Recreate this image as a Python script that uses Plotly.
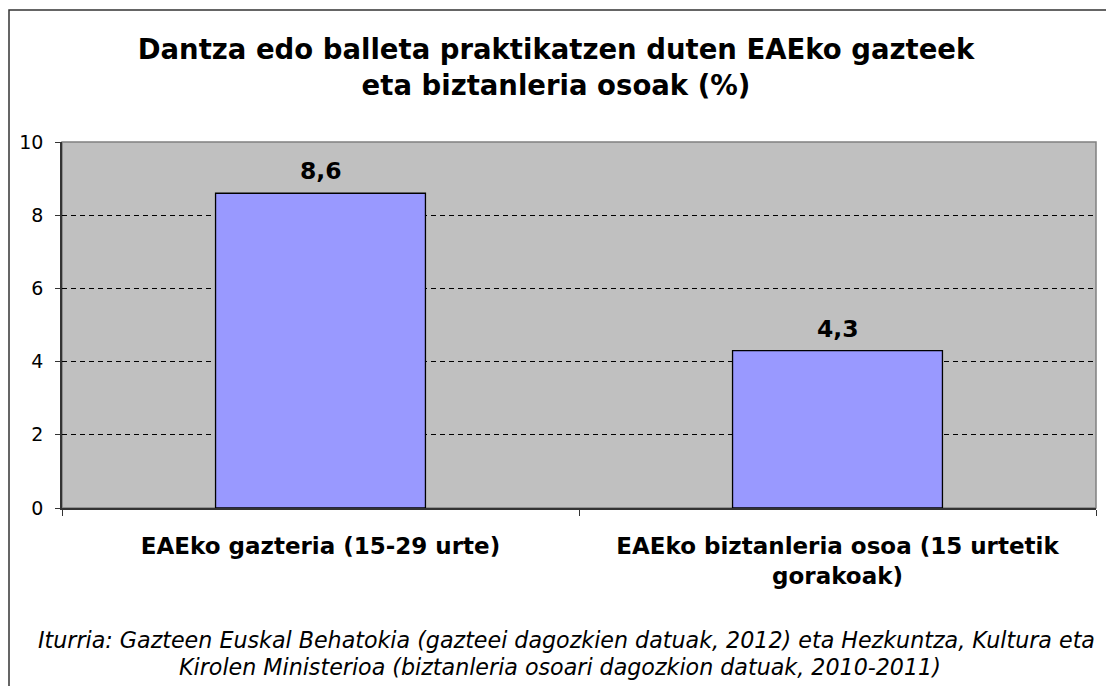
import plotly.graph_objects as go

categories = ["EAEko gazteria (15-29 urte)", "EAEko biztanleria osoa (15 urtetik<br>gorakoak)"]
values = [8.6, 4.3]
value_labels = ["8,6", "4,3"]
y_ticks = [0, 2, 4, 6, 8, 10]
title_lines = ["Dantza edo balleta praktikatzen duten EAEko gazteek", "eta biztanleria osoak (%)"]
source_lines = [
    "Iturria: Gazteen Euskal Behatokia (gazteei dagozkien datuak, 2012) eta Hezkuntza, Kultura eta",
    "Kirolen Ministerioa (biztanleria osoari dagozkion datuak, 2010-2011)",
]

FONT = "DejaVu Sans"
OFF = 8  # page body margin
W, H = 1114 - OFF, 686 - OFF
L, T = 62 - OFF, 142 - OFF
R = W - (1096 - OFF)
B = H - (508 - OFF)
pw, ph = W - L - R, H - T - B

def px_x(px):  # page pixel -> paper x
    return (px - OFF - L) / pw

def px_y(py):  # page pixel -> paper y
    return (H - B - (py - OFF)) / ph

fig = go.Figure()
fig.add_trace(go.Bar(
    x=categories, y=values,
    marker=dict(color="#9999FF", line=dict(color="black", width=1.3)),
    width=0.406, hoverinfo="skip",
))

annotations = []
for c, v, t in zip(categories, values, value_labels):
    annotations.append(dict(x=c, y=v, text="<b>%s</b>" % t, showarrow=False,
                            xref="x", yref="y", yanchor="bottom", yshift=6,
                            font=dict(family=FONT, size=23.5, color="black")))
for line, py, cx in zip(source_lines, [640, 667], [566, 560]):
    annotations.append(dict(x=px_x(cx), y=px_y(py), xref="paper", yref="paper",
                            text="<i>%s</i>" % line, showarrow=False,
                            xanchor="center", yanchor="middle",
                            font=dict(family=FONT, size=22.2, color="black")))

fig.update_layout(
    width=W, height=H,
    margin=dict(l=L, r=R, t=T, b=B),
    paper_bgcolor="white", plot_bgcolor="#C0C0C0",
    title=dict(text="<b>%s<br>%s</b>" % tuple(title_lines),
               x=(556 - OFF) / W, xanchor="center", y=1 - (59 - OFF) / H, yanchor="middle",
               font=dict(family=FONT, size=27.5, color="black")),
    showlegend=False,
    annotations=annotations,
    bargap=0.594,
    shapes=[
        dict(type="rect", xref="paper", yref="paper", x0=0, x1=1, y0=0, y1=1,
             line=dict(color="#808080", width=1.5), layer="below"),
        dict(type="rect", xref="paper", yref="paper",
             x0=px_x(9), x1=px_x(1300), y0=px_y(900), y1=px_y(10),
             line=dict(color="#333333", width=1.5), layer="above"),
    ],
)
fig.update_xaxes(
    showline=True, linecolor="#333333", linewidth=1.5,
    ticks="outside", tickson="boundaries", ticklen=6, tickcolor="#333333",
    showgrid=False, ticklabelstandoff=17,
    tickfont=dict(family=FONT, size=23, color="black"),
    tickvals=categories,
    ticktext=["<b>%s</b>" % c for c in categories],
)
fig.update_yaxes(
    range=[0, 10], tickvals=y_ticks, ticktext=[str(v) for v in y_ticks],
    showline=True, linecolor="#333333", linewidth=1.5,
    ticks="outside", ticklen=5, tickcolor="#333333",
    showgrid=True, gridcolor="black", gridwidth=1, griddash="5px,4px",
    zeroline=False, ticklabelstandoff=8,
    tickfont=dict(family=FONT, size=19, color="black"),
)
fig.write_html("out.html")
